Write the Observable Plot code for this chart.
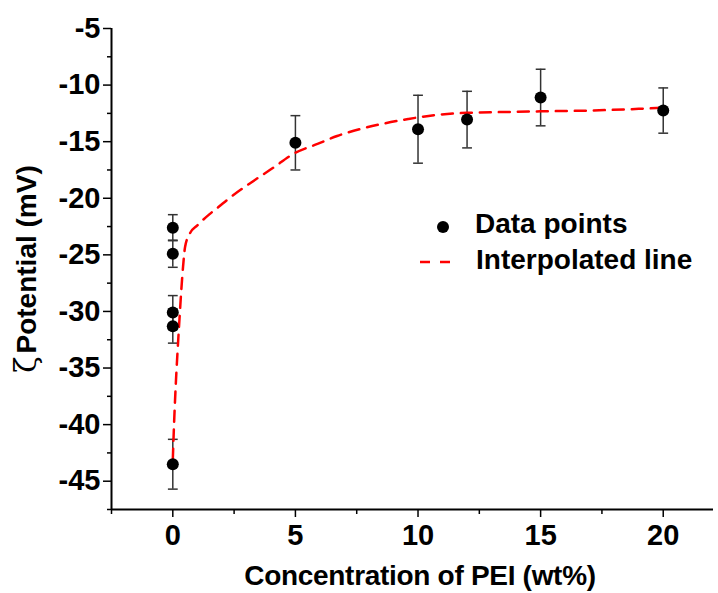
<!DOCTYPE html>
<html>
<head>
<meta charset="utf-8">
<script src="https://cdn.jsdelivr.net/npm/d3@7"></script>
<script src="https://cdn.jsdelivr.net/npm/@observablehq/plot@0.6"></script>
<style>
  html, body { margin: 0; padding: 0; background: #fff; }
  #chart { width: 718px; height: 593px; }
</style>
</head>
<body>
<div id="chart"></div>
<script>
// Measured data points (x = PEI concentration wt%, y = zeta potential mV)
const conc    = [0, 0, 0, 0, 0, 5, 10, 12, 15, 20];
const zeta    = [-22.6, -24.9, -30.1, -31.3, -43.5, -15.1, -13.9, -13.05, -11.1, -12.25];
const zetaErr = [1.15, 1.2, 1.5, 1.5, 2.2, 2.4, 3.0, 2.5, 2.5, 2.0];

// Interpolated (fitted) line
const fitX = [0, 0.05, 0.12, 0.2, 0.28, 0.35, 0.42, 0.5, 0.7, 1.0, 1.5, 1.85, 2.3, 3.2, 4.1, 4.9, 5.9, 6.7, 7.7, 8.6, 9.6, 10.5, 12, 13.5, 15, 17, 19, 20];
const fitY = [-43.1, -40.0, -36.5, -33.3, -30.4, -28.0, -26.0, -24.3, -23.1, -22.4, -21.4, -20.8, -20.0, -18.6, -17.3, -16.1, -15.2, -14.5, -13.85, -13.4, -13.0, -12.7, -12.45, -12.38, -12.32, -12.25, -12.1, -12.0];

// Axis ticks
const xTicks = [0, 5, 10, 15, 20];
const xMinor = [-2.5, 2.5, 7.5, 12.5, 17.5];
const yTicks = [-5, -10, -15, -20, -25, -30, -35, -40, -45];
const yMinor = [-7.5, -12.5, -17.5, -22.5, -27.5, -32.5, -37.5, -42.5, -47.5];

const xLabel = "Concentration of PEI (wt%)";
const yLabelSym = "ζ";
const yLabel = "Potential (mV)";
const legendLabels = ["Data points", "Interpolated line"];

const pts = conc.map((x, i) => ({x, y: zeta[i], lo: zeta[i] - zetaErr[i], hi: zeta[i] + zetaErr[i]}));
const fit = fitX.map((x, i) => ({x, y: fitY[i]}));

const font = "'Liberation Sans', Arial, Helvetica, sans-serif";
const capHalf = 0.2;

const svg = Plot.plot({
  width: 718,
  height: 593,
  marginLeft: 111,
  marginRight: 5,
  marginTop: 28,
  marginBottom: 84,
  style: {fontFamily: font, background: "#fff", color: "#000", overflow: "visible"},
  x: {domain: [-2.5, 22.05]},
  y: {domain: [-47.5, -5]},
  marks: [
    Plot.axisX({ticks: xMinor, tickSize: 5, tickFormat: () => "", strokeWidth: 1.5, label: null}),
    Plot.axisX({ticks: xTicks, tickSize: 8, tickPadding: 7, tickFormat: d => String(d), strokeWidth: 1.5, label: null, fontSize: 29, fontWeight: "bold"}),
    Plot.axisY({ticks: yMinor, tickSize: 4, tickFormat: () => "", strokeWidth: 1.5, label: null}),
    Plot.axisY({ticks: yTicks, tickSize: 8, tickPadding: 3, tickFormat: d => String(d), strokeWidth: 1.5, label: null, fontSize: 29, fontWeight: "bold"}),
    Plot.ruleX([-2.5], {stroke: "#000", strokeWidth: 2}),
    Plot.ruleY([-47.5], {stroke: "#000", strokeWidth: 2}),
    // error bars
    Plot.ruleX(pts, {x: "x", y1: "lo", y2: "hi", stroke: "#333", strokeWidth: 1.5}),
    Plot.link(pts, {x1: d => d.x - capHalf, x2: d => d.x + capHalf, y1: "hi", y2: "hi", stroke: "#333", strokeWidth: 1.5}),
    Plot.link(pts, {x1: d => d.x - capHalf, x2: d => d.x + capHalf, y1: "lo", y2: "lo", stroke: "#333", strokeWidth: 1.5}),
    // interpolated line
    Plot.line(fit, {x: "x", y: "y", stroke: "#ff0000", strokeWidth: 2.5, strokeDasharray: "11,8", curve: "monotone-x"}),
    // data points
    Plot.dot(pts, {x: "x", y: "y", r: 6, fill: "#000"})
  ]
});

const s = d3.select(svg);
// axis titles
s.append("text")
  .attr("x", 420).attr("y", 585)
  .attr("text-anchor", "middle")
  .attr("font-family", font).attr("font-size", 28).attr("font-weight", "bold")
  .attr("letter-spacing", -0.3)
  .attr("fill", "#000")
  .text(xLabel);

const yt = s.append("text")
  .attr("transform", "translate(36,269) rotate(-90)")
  .attr("text-anchor", "middle")
  .attr("font-family", font).attr("font-size", 28).attr("font-weight", "bold")
  .attr("fill", "#000");
yt.append("tspan").attr("font-family", "'DejaVu Serif', 'Liberation Serif', serif").attr("font-weight", "normal").attr("font-size", 30).text(yLabelSym);
yt.append("tspan").attr("dx", 3).text(yLabel);

// legend
const lg = s.append("g").attr("font-family", font).attr("font-size", 28).attr("font-weight", "bold")
  .attr("fill", "#000").attr("text-anchor", "start");
lg.append("circle").attr("cx", 443).attr("cy", 227).attr("r", 6).attr("fill", "#000");
lg.append("text").attr("x", 475).attr("y", 233).attr("text-anchor", "start").text(legendLabels[0]);
lg.append("line").attr("x1", 420).attr("x2", 451).attr("y1", 262).attr("y2", 262)
  .attr("stroke", "#ff0000").attr("stroke-width", 2.5).attr("stroke-dasharray", "10,10");
lg.append("text").attr("x", 476).attr("y", 269).attr("text-anchor", "start").text(legendLabels[1]);

document.getElementById("chart").appendChild(svg);
</script>
</body>
</html>
